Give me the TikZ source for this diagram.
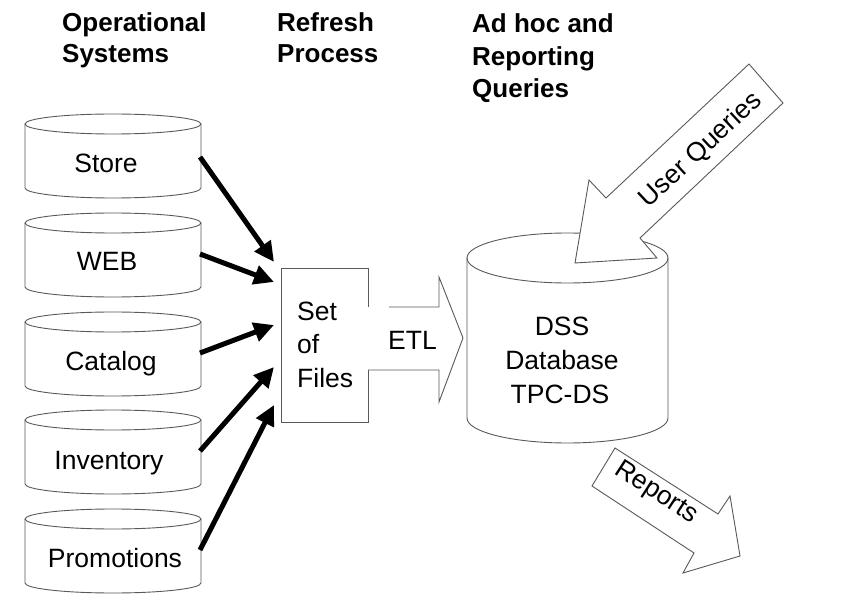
\documentclass[tikz,border=0pt]{standalone}
\usepackage{fontspec}
\setmainfont{Liberation Sans}
\usetikzlibrary{arrows.meta}
\definecolor{lncol}{gray}{0.35}
\newcommand{\cylshape}[5]{% #1 cx, #2 top y, #3 rx, #4 height, #5 ry
  \draw[outl, fill=white] (#1-#3,#2) -- (#1-#3,#2+#4)
     arc[start angle=180, end angle=0, x radius=#3, y radius=#5] -- (#1+#3,#2);
  \draw[outl] (#1,#2) ellipse[x radius=#3, y radius=#5];}
\begin{document}
\begin{tikzpicture}[x=1pt,y=-1pt,
  outl/.style={draw=lncol, line width=0.9pt},
  lbl/.style={font=\fontsize{26.5}{30}\selectfont, inner sep=0pt},
  hdr/.style={font=\bfseries\fontsize{26}{30}\selectfont, inner sep=0pt, anchor=base west},
  feed/.style={line width=5pt, -{Triangle[length=20pt,width=19pt]}},
  blockarrow/.style={draw=lncol, line width=0.9pt, fill=white, line join=miter}]
\useasboundingbox (0,0) rectangle (854,612);

% headers
\node[hdr] (h1a) at (62,32) {Operational};
\node[hdr] (h1b) at (62,63) {Systems};
\node[hdr] (h2a) at (277,32) {Refresh};
\node[hdr] (h2b) at (277,63) {Process};
\node[hdr] (h3a) at (472,33) {Ad hoc and};
\node[hdr] (h3b) at (472,65.5) {Reporting};
\node[hdr] (h3c) at (472,98) {Queries};

% source cylinders
\cylshape{113}{124}{88}{64}{10}
\cylshape{113}{223}{88}{64}{10}
\cylshape{113}{322}{88}{64}{10}
\cylshape{113}{420}{88}{64}{10}
\cylshape{113}{519}{88}{64}{10}
\node[lbl, anchor=base] (store) at (106,173) {Store};
\node[lbl, anchor=base] (web) at (107,271) {WEB};
\node[lbl, anchor=base] (catalog) at (111,370) {Catalog};
\node[lbl, anchor=base] (inventory) at (109,469) {Inventory};
\node[lbl, anchor=base] (promotions) at (115,567) {Promotions};

% set of files box
\draw[outl] (368,307) -- (368,268) -- (281,268) -- (281,422) -- (368,422) -- (368,370);
\node[lbl, anchor=base west] (files1) at (297,320) {Set};
\node[lbl, anchor=base west] (files2) at (297,353.5) {of};
\node[lbl, anchor=base west] (files3) at (297,387) {Files};

% feed arrows
\coordinate (o1) at (200,157); \coordinate (i1) at (274,262);
\coordinate (o2) at (200,254); \coordinate (i2) at (274,282);
\coordinate (o3) at (200,353); \coordinate (i3) at (274,325);
\coordinate (o4) at (200,451); \coordinate (i4) at (274,367);
\coordinate (o5) at (200,550); \coordinate (i5) at (274,405);
\draw[feed] (o1) -- (i1);
\draw[feed] (o2) -- (i2);
\draw[feed] (o3) -- (i3);
\draw[feed] (o4) -- (i4);
\draw[feed] (o5) -- (i5);

% ETL block arrow
\draw[outl, line join=miter] (389,307) -- (439,307) -- (439,277) -- (463,338) -- (439,402) -- (439,370) -- (368,370);
\node[lbl, anchor=base west] (etl) at (388,349) {ETL};

% DSS database
\cylshape{567.5}{258}{100.5}{160}{25}
\node[lbl, anchor=base] (dss1) at (562,335) {DSS};
\node[lbl, anchor=base] (dss2) at (562,369) {Database};
\node[lbl, anchor=base] (dss3) at (560,403) {TPC-DS};

% user queries arrow
\draw[blockarrow] (749,64) -- (783,103) -- (640,238) -- (657,258) -- (575,263) -- (589,180) -- (606,198) -- cycle;
\node[lbl, rotate=43] (uq) at (701,150) {User Queries};

% reports arrow
\draw[blockarrow] (615,448) -- (718,514) -- (730,496) -- (740,556) -- (683,573) -- (694,553) -- (592,486) -- cycle;
\node[lbl, rotate=-33] (rep) at (656,493) {Reports};
\end{tikzpicture}
\end{document}
